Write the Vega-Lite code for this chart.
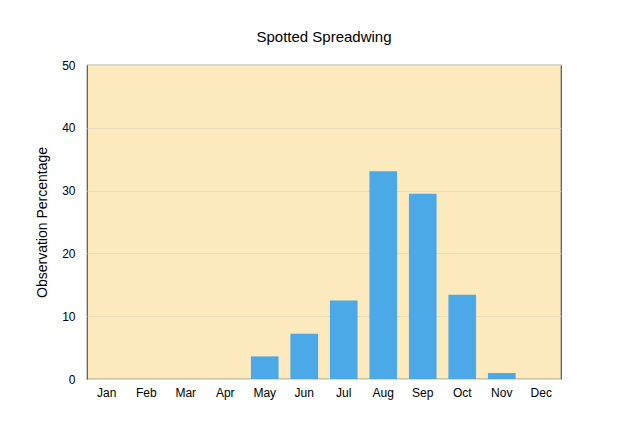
{
  "$schema": "https://vega.github.io/schema/vega-lite/v6.json",
  "autosize": {"type": "none"},
  "width": 474,
  "height": 314,
  "padding": {"left": 87, "top": 65, "right": 79, "bottom": 64},
  "background": "white",
  "title": {"text": "Spotted Spreadwing", "font": "Liberation Sans", "fontSize": 15, "fontWeight": "normal", "color": "black", "anchor": "middle", "offset": 14},
  "config": {
    "view": {"fill": "#FDE9BE", "stroke": "#555555", "strokeWidth": 1.2},
    "axis": {"labelFont": "Liberation Sans", "titleFont": "Liberation Sans", "labelColor": "black", "titleColor": "black", "labelFontSize": 12, "titleFontSize": 14, "titleFontWeight": "normal", "domain": false, "ticks": false}
  },
  "data": {"values": [
    {"month": "Jan", "pct": 0},
    {"month": "Feb", "pct": 0},
    {"month": "Mar", "pct": 0},
    {"month": "Apr", "pct": 0},
    {"month": "May", "pct": 3.6},
    {"month": "Jun", "pct": 7.2},
    {"month": "Jul", "pct": 12.5},
    {"month": "Aug", "pct": 33.1},
    {"month": "Sep", "pct": 29.5},
    {"month": "Oct", "pct": 13.4},
    {"month": "Nov", "pct": 0.95},
    {"month": "Dec", "pct": 0}
  ]},
  "mark": {"type": "bar", "fill": "#4BA9E7", "strokeWidth": 0},
  "encoding": {
    "x": {"field": "month", "type": "nominal", "sort": null, "title": null,
      "scale": {"paddingInner": 0.3, "paddingOuter": 0.15},
      "axis": {"labelAngle": 0, "labelPadding": 8, "grid": false}},
    "y": {"field": "pct", "type": "quantitative", "title": "Observation Percentage",
      "scale": {"domain": [0, 50], "nice": false},
      "axis": {"values": [0, 10, 20, 30, 40, 50], "labelPadding": 12, "titlePadding": 12, "grid": true, "gridColor": "#E6D9BC", "gridWidth": 1}}
  }
}
